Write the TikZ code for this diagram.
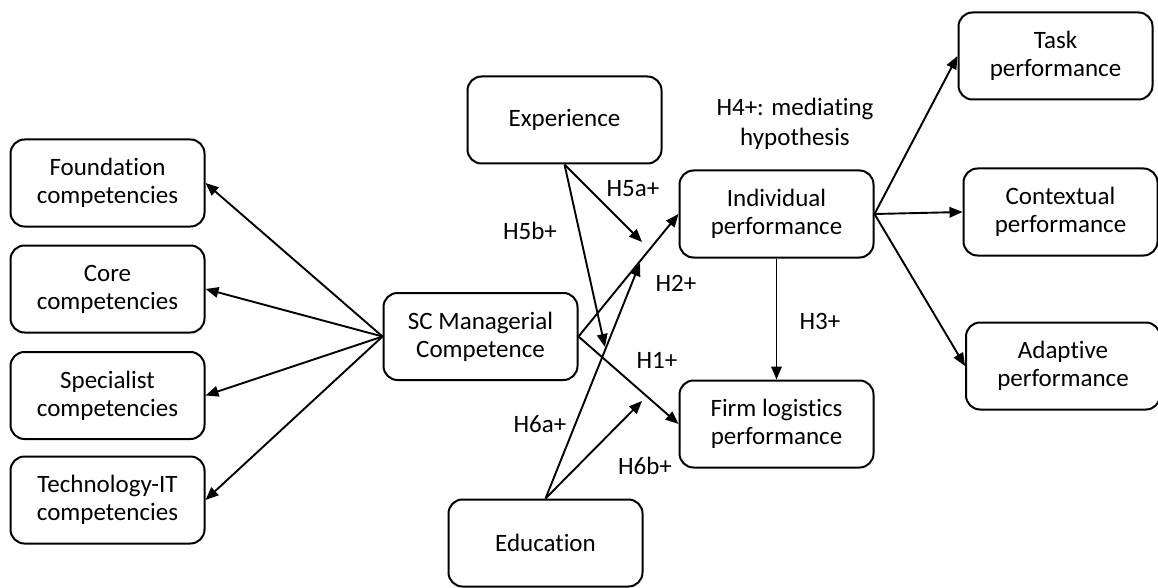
\documentclass[tikz,border=0pt]{standalone}
\usepackage{fontspec}
\setmainfont{Carlito}[Ligatures={NoCommon}]
\usetikzlibrary{arrows.meta}
\begin{document}
\begin{tikzpicture}[x=1pt,y=-1pt,
  box/.style={draw, line width=2pt, rounded corners=14pt, minimum width=194pt,
    minimum height=87pt, align=center, inner sep=0pt,
    font=\fontsize{25}{28}\selectfont},
  lbl/.style={inner sep=0pt, align=center, font=\fontsize{25}{30}\selectfont},
  link/.style={line width=1.9pt, -{Triangle[length=13pt,width=10.5pt]}}]
\useasboundingbox (0,0) rectangle (1158,588);

% competency dimensions
\node[box] (found) at (107.5,183) {Foundation\\competencies};
\node[box] (core)  at (107.5,289) {Core\\competencies};
\node[box] (spec)  at (107.5,395.5) {Specialist\\competencies};
\node[box] (tech)  at (107.5,500) {Technology-IT\\competencies};

% central constructs
\node[box] (sc)   at (480.5,336.5) {SC Managerial\\Competence};
\node[box] (exp)  at (564.5,120) {Experience};
\node[box] (edu)  at (545.5,543) {Education};
\node[box] (ind)  at (776.5,214) {Individual\\performance};
\node[box] (firm) at (776.5,424) {Firm logistics\\performance};

% performance dimensions
\node[box] (task) at (1055.5,56) {Task\\performance};
\node[box] (ctx)  at (1060.5,212) {Contextual\\performance};
\node[box] (adp)  at (1063,366) {Adaptive\\performance};

% moderation targets
\coordinate (m5a) at (642,242);
\coordinate (m5b) at (605,347);
\coordinate (m6a) at (640,263);
\coordinate (m6b) at (642,401);

% connectors
\draw[link] (sc.west) -- (found.east);
\draw[link] (sc.west) -- (core.east);
\draw[link] (sc.west) -- (spec.east);
\draw[link] (sc.west) -- (tech.east);
\draw[link] (sc.east) -- (ind.west);
\draw[link] (sc.east) -- (firm.west);
\draw[link] (exp.south) -- (m5a);
\draw[link] (exp.south) -- (m5b);
\draw[link] (edu.north) -- (m6a);
\draw[link] (edu.north) -- (m6b);
\draw[link] (ind.south) -- (firm.north);
\draw[link] (ind.east) -- (task.west);
\draw[link] (ind.east) -- (ctx.west);
\draw[link] (ind.east) -- (adp.west);

% hypothesis labels
\node[lbl] (h4)  at (795,124) {H4+: mediating\\hypothesis};
\node[lbl] (h5a) at (633,189) {H5a+};
\node[lbl] (h5b) at (530,231) {H5b+};
\node[lbl] (h2)  at (676,283) {H2+};
\node[lbl] (h3)  at (820,321) {H3+};
\node[lbl] (h1)  at (657,360) {H1+};
\node[lbl] (h6a) at (540,424) {H6a+};
\node[lbl] (h6b) at (645,466) {H6b+};
\end{tikzpicture}
\end{document}
